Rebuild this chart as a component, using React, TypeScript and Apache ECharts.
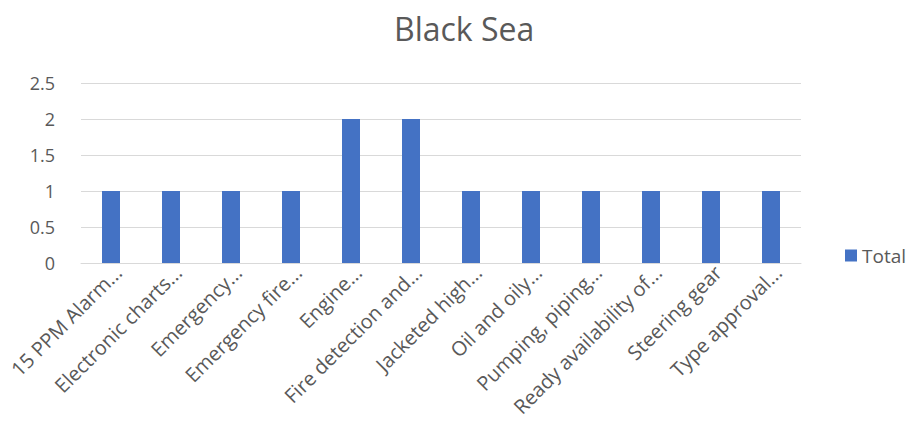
import React, { useEffect, useRef } from "react";
import * as echarts from "echarts";

const titleText = "Black Sea";
const categories = [
  "15 PPM Alarm...",
  "Electronic charts...",
  "Emergency...",
  "Emergency fire...",
  "Engine...",
  "Fire detection and...",
  "Jacketed high...",
  "Oil and oily...",
  "Pumping, piping...",
  "Ready availability of...",
  "Steering gear",
  "Type approval...",
];
const totals = [1, 1, 1, 1, 2, 2, 1, 1, 1, 1, 1, 1];
const seriesName = "Total";
const yMin = 0;
const yMax = 2.5;
const yStep = 0.5;

const FONT = "'Open Sans', 'Noto Sans', sans-serif";
const TEXT = "#595959";

export default function App() {
  const ref = useRef<HTMLDivElement>(null);
  useEffect(() => {
    if (!ref.current) return;
    const chart = echarts.init(ref.current, undefined, { renderer: "svg" });
    chart.setOption({
      animation: false,
      backgroundColor: "#ffffff",
      title: {
        text: titleText,
        left: 389,
        top: 7,
        textStyle: { fontFamily: FONT, fontSize: 32, fontWeight: "normal", color: TEXT },
      },
      legend: {
        data: [seriesName],
        left: 845,
        top: 246,
        padding: 0,
        icon: "rect",
        itemWidth: 12,
        itemHeight: 12,
        itemGap: 5,
        textStyle: { fontFamily: FONT, fontSize: 19, color: TEXT },
      },
      grid: { left: 81, right: 115, top: 83, bottom: 165, containLabel: false },
      xAxis: {
        type: "category",
        data: categories,
        axisLine: { show: true, lineStyle: { color: "#d9d9d9", width: 1 } },
        axisTick: { show: false },
        axisLabel: {
          interval: 0,
          rotate: 45,
          margin: 13,
          fontFamily: FONT,
          fontSize: 20,
          color: TEXT,
          padding: [0, -10, 0, 0],
        },
      },
      yAxis: {
        type: "value",
        min: yMin,
        max: yMax,
        interval: yStep,
        axisLine: { show: false },
        axisTick: { show: false },
        splitLine: { lineStyle: { color: "#d9d9d9", width: 1 } },
        axisLabel: { fontFamily: FONT, fontSize: 18, color: TEXT, margin: 26 },
      },
      series: [
        {
          name: seriesName,
          type: "bar",
          data: totals,
          barWidth: 18,
          itemStyle: { color: "#4472C4" },
        },
      ],
    });
    return () => chart.dispose();
  }, []);
  return (
    <div
      ref={ref}
      style={{ position: "absolute", left: 0, top: 0, width: 916, height: 428 }}
    />
  );
}
